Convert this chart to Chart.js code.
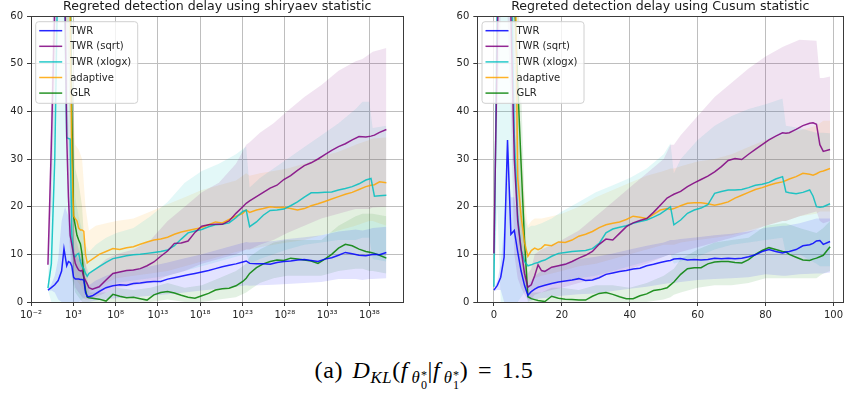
<!DOCTYPE html>
<html>
<head>
<meta charset="utf-8">
<script src="https://cdn.jsdelivr.net/npm/chart.js@4.4.1/dist/chart.umd.min.js"></script>
<style>
  html, body { margin: 0; padding: 0; background: #fff; overflow: hidden; }
  body { width: 846px; height: 399px; position: relative; }
  canvas { position: absolute; top: 0; }
  #left { left: 0; }
  #right { left: 423px; }
  #cap { position: absolute; left: 0; width: 848px; top: 357px; text-align: center;
         font: 24px 'Liberation Serif', serif; line-height: 26px; color: #000; white-space: nowrap;
         letter-spacing: 0.6px; }
  #cap sub { font-size: 0.7em; vertical-align: -0.28em; line-height: 0; }
  #cap .st { display: inline-block; vertical-align: -0.5em; line-height: 0.8em; font-size: 0.72em; margin-left: 0.05em; }
  #cap .st span { display: block; }
  #cap .f { margin-right: 0.14em; }
  #cap .eq { margin: 0 0.4em; }
  #cap .sp { margin-right: 0.4em; }
</style>
</head>
<body>
<canvas id="left" width="423" height="330"></canvas>
<canvas id="right" width="423" height="330"></canvas>
<div id="cap"><span class="sp">(a)</span><i>D</i><sub><i>KL</i></sub>(<i class="f">f</i><sub><i>θ</i><span class="st"><span>*</span><span>0</span></span></sub>|<i class="f">f</i><sub><i>θ</i><span class="st"><span>*</span><span>1</span></span></sub>)<span class="eq">=</span>1.5</div>
<script>
const seriesNames = ['TWR', 'TWR (sqrt)', 'TWR (xlogx)', 'adaptive', 'GLR'];
const seriesColors = ['#0000ff', '#800080', '#00bfbf', '#ffa500', '#008000'];
const yTicks = [0, 10, 20, 30, 40, 50, 60];
const leftTickExps = [-2, 3, 8, 13, 18, 23, 28, 33, 38];
const rightTicks = [0, 20, 40, 60, 80, 100];

// ---- left plot (shiryaev), x = step index, plotted on a log axis
const leftX = [0, 1, 2, 3, 4, 4.7, 5.5, 6, 6.5, 7, 7.5, 8, 8.5, 9, 9.5, 10, 10.5, 11, 11.5, 12, 13, 15, 17, 19, 21, 23, 25, 27, 29, 31, 33, 35, 37, 39, 41, 43, 45, 47, 49, 51, 53, 55, 57, 58, 59, 61, 63, 65, 67, 69, 71, 73, 75, 77, 79, 81, 83, 85, 87, 89, 91, 93, 94.5, 95.5, 97, 99];
const leftTwr = [2.5, 3.0, 3.6, 4.5, 6.5, 11.2, 7.6, 8.5, 8.3, 7.5, 5.2, 4.8, 4.8, 4.8, 4.7, 4.7, 4.6, 2.0, 1.2, 1.1, 1.3, 2.2, 3.0, 3.4, 3.6, 3.5, 3.9, 4.0, 4.2, 4.3, 4.3, 4.8, 5.1, 5.4, 5.7, 6.0, 6.3, 6.6, 7.0, 7.4, 7.7, 8.0, 8.4, 8.6, 8.1, 8.0, 8.0, 7.9, 8.3, 8.5, 8.6, 8.8, 8.9, 8.7, 8.5, 9.0, 9.3, 9.8, 10.4, 10.1, 9.8, 9.7, 9.9, 10.0, 9.9, 10.4];
const leftSqrt = [7.8, 33, 62, 80, 80, 80, 34.5, 22, 14, 12, 10, 8.1, 7.3, 6.7, 6.5, 6.6, 5.2, 4.5, 3.8, 3.0, 2.7, 3.2, 4.6, 6.0, 6.3, 6.6, 6.7, 7.0, 7.6, 8.4, 9.6, 10.7, 12.3, 12.4, 12.8, 14.6, 15.9, 16.2, 16.3, 16.3, 17.0, 18.6, 20.0, 20.7, 21.2, 22.1, 23.0, 23.9, 24.5, 25.7, 26.5, 27.6, 28.6, 29.2, 30.0, 30.9, 31.8, 32.6, 33.2, 34.0, 34.7, 34.6, 34.8, 35.0, 35.6, 36.2];
const leftXlogx = [2.9, 8, 30, 75, 80, 75, 34.5, 34.3, 34.2, 14, 9.7, 9.5, 10.0, 10.2, 8.5, 7.4, 7.0, 6.0, 5.4, 6.0, 6.5, 7.4, 8.3, 9.1, 9.4, 9.7, 9.9, 10.0, 10.2, 10.4, 10.6, 10.9, 11.8, 13.2, 14.5, 14.9, 15.2, 15.8, 16.2, 16.3, 16.6, 17.7, 19.0, 19.3, 15.8, 16.8, 18.2, 19.2, 19.3, 19.5, 20.2, 21.0, 22.0, 22.9, 22.9, 23.0, 23.1, 23.5, 23.8, 24.2, 24.8, 25.6, 25.9, 22.2, 22.3, 22.4];
const leftAdaptive = [80, 80, 80, 80, 80, 80, 80, 75, 60, 30, 18, 17.5, 17, 15.5, 15.1, 15.1, 14.8, 10, 8.2, 8.5, 9.0, 10.0, 10.6, 11.2, 11.0, 11.4, 11.6, 12.1, 12.6, 13.0, 13.2, 13.6, 14.2, 14.7, 15.0, 15.3, 15.6, 16.2, 16.8, 16.6, 17.3, 18.0, 18.6, 19.3, 18.8, 19.3, 19.6, 20.0, 19.8, 19.9, 19.6, 19.3, 19.6, 20.2, 20.6, 21.1, 21.6, 22.1, 22.6, 23.0, 23.6, 24.2, 24.5, 24.6, 25.2, 25.0];
const leftGlr = [80, 80, 80, 80, 80, 80, 80, 80, 70, 40, 18, 16, 14, 13, 12.2, 10, 5, 2.5, 1.0, 0.9, 0.8, 0.6, 0.2, 1.6, 1.2, 0.9, 1.0, 0.7, 0.4, 1.5, 2.0, 2.2, 1.9, 1.4, 1.0, 0.8, 1.3, 1.8, 2.5, 2.8, 2.9, 3.4, 4.3, 5.0, 6.0, 7.2, 8.0, 8.5, 8.8, 8.7, 9.2, 9.0, 8.8, 8.6, 8.1, 9.0, 10.0, 11.3, 12.1, 11.8, 11.1, 10.6, 10.4, 10.2, 9.8, 9.2];

const leftBandX = [0, 1, 2, 3, 4, 5, 6, 7, 8, 9, 10, 11, 12, 14, 17, 20, 25, 30, 35, 40, 45, 50, 55, 58, 59, 62, 66, 70, 75, 80, 85, 90, 92, 94, 95, 99];
const leftTwrLo = [2.3, 2.4, 2.0, 0.5, 0, 0, 0, 0, 0, 0, 0, 0, 0, 0.3, 0.6, 0.8, 1.0, 1.3, 1.6, 2.0, 2.4, 2.8, 3.2, 3.5, 3.4, 3.5, 3.6, 3.8, 4.0, 4.2, 4.8, 4.8, 4.6, 4.8, 4.8, 5.0];
const leftTwrHi = [2.7, 3.8, 5.5, 9, 17, 20, 18, 15, 10, 9, 9, 5, 3.5, 4.5, 5.5, 6.3, 6.8, 7.5, 8.3, 9.2, 10.0, 11.0, 12.0, 12.6, 12.5, 12.6, 12.8, 13.2, 13.6, 14.0, 14.8, 15.2, 15.0, 15.3, 15.5, 15.8];
const leftSqrtLo = [7.5, 20, 45, 60, 60, 60, 15, 6, 3, 2, 1, 0.5, 0.5, 1, 2, 3, 3.5, 4, 5.5, 6.5, 8, 9, 10, 11, 11, 12, 13, 14.5, 16, 17.5, 18.5, 19.5, 19.5, 19.5, 19.8, 20];
const leftSqrtHi = [8.2, 45, 80, 90, 90, 90, 40, 20, 14, 11, 10, 8, 6, 7, 9, 10, 11, 13, 17, 20, 23, 25, 29, 33, 33.5, 35.5, 37.5, 40, 43, 45.5, 48.5, 50.5, 51, 52, 52.5, 53.3];
const leftXlogxLo = [2.5, 0, 0, 0, 0, 0, 0, 0, 0, 0, 0.5, 1, 1.5, 2, 3, 4, 4.5, 5, 5.5, 6.5, 7.5, 8.5, 9.5, 10, 8, 9, 10, 11, 12, 12.5, 13, 13, 13.5, 13.5, 9, 8.5];
const leftXlogxHi = [3.5, 40, 90, 90, 90, 90, 80, 40, 22, 18, 15, 12, 10.5, 12, 13.5, 14.5, 15.5, 18, 21, 25, 27.5, 29, 31, 32.6, 24, 26, 28, 30, 32.5, 35, 37.5, 40.5, 42, 42, 36.5, 37];
const leftAdaptiveLo = [65, 65, 65, 65, 65, 65, 50, 10, 5, 4, 3, 2, 2, 3, 4, 5, 5.5, 6, 6.5, 7.5, 8.5, 9.5, 10.5, 11, 11, 11.5, 12, 12.5, 13, 14, 15, 16, 16.5, 17, 17, 16];
const leftAdaptiveHi = [90, 90, 90, 90, 90, 90, 90, 45, 33, 32, 30, 20, 15, 16, 16.5, 17, 17.5, 19, 20.5, 22, 23.5, 24.5, 25.5, 27, 26.5, 27, 27.5, 28, 29, 30.5, 31.5, 33, 33.5, 34, 34.3, 34.5];
const leftGlrLo = [65, 65, 65, 65, 65, 65, 50, 5, 2, 1, 0, 0, 0, 0, 0, 0, 0, 0, 0.5, 0, 0, 0.5, 1, 2, 2.5, 4, 5, 5.5, 5.5, 5.5, 6.5, 7, 7, 6.5, 6.5, 6];
const leftGlrHi = [90, 90, 90, 90, 90, 90, 90, 45, 28, 25, 20, 8, 2, 2, 2, 3, 2.5, 3, 4, 3, 3.5, 5, 6.5, 8, 9.5, 11, 12.5, 13, 13, 13, 16, 18, 18.5, 18.5, 18.5, 18];

// ---- right plot (Cusum), x = step index 0..99
const rightX = [0, 1, 2, 3, 4, 5, 6, 7, 8, 9, 10, 11, 12, 13, 14, 15, 17, 19, 21, 23, 25, 27, 29, 31, 33, 35, 37, 39, 41, 43, 45, 47, 49, 51, 52, 53, 55, 57, 59, 61, 63, 65, 67, 69, 71, 73, 75, 77, 79, 81, 83, 85, 86, 87, 89, 91, 93, 94, 95, 96, 97, 99];
const rightTwr = [2.5, 3.5, 5.2, 9.4, 34, 14.2, 15.0, 10.5, 6.5, 3.5, 1.4, 2.2, 2.7, 3.1, 3.3, 3.5, 3.9, 4.2, 4.4, 4.6, 4.9, 4.5, 4.6, 5.1, 5.8, 6.1, 6.4, 6.6, 6.9, 7.1, 7.6, 7.9, 8.3, 8.6, 8.7, 9.0, 9.1, 8.8, 8.9, 8.8, 8.9, 9.2, 9.1, 9.2, 9.1, 9.2, 9.5, 9.9, 10.6, 11.0, 10.6, 10.3, 10.5, 10.6, 11.0, 11.8, 12.0, 12.3, 12.8, 12.9, 12.1, 12.7];
const rightSqrt = [10.2, 55, 90, 90, 90, 60, 30, 17, 11, 6, 3.1, 3.6, 5.5, 7.8, 6.6, 6.4, 7.3, 7.6, 7.9, 8.5, 9.2, 9.8, 10.6, 12.1, 13.2, 13.0, 14.4, 15.8, 16.6, 17.1, 17.5, 18.8, 20.3, 21.8, 22.2, 22.6, 23.2, 24.2, 25.0, 25.7, 26.4, 27.3, 28.4, 29.7, 30.1, 29.9, 31.0, 32.0, 33.0, 34.0, 34.8, 35.5, 35.4, 35.5, 36.2, 37.0, 37.5, 37.6, 37.3, 33.0, 31.6, 32.0];
const rightXlogx = [3.2, 65, 90, 90, 90, 75, 35, 18, 11, 8.5, 7.6, 7.8, 8.1, 8.3, 8.6, 8.8, 9.6, 10.2, 10.4, 10.6, 10.7, 10.8, 11.2, 12.3, 14.5, 15.3, 15.7, 16.0, 16.5, 16.9, 17.2, 17.8, 18.5, 19.5, 20.0, 16.2, 17.2, 18.6, 19.3, 19.7, 20.4, 22.8, 23.2, 23.5, 23.5, 23.6, 24.0, 24.5, 24.7, 25.1, 25.8, 26.3, 23.1, 22.9, 22.7, 23.0, 23.5, 22.2, 20.0, 19.9, 20.0, 20.6];
const rightAdaptive = [80, 80, 80, 80, 80, 80, 90, 26, 18, 12.5, 9.6, 10.8, 11.3, 11.0, 11.3, 12.0, 11.8, 12.6, 12.5, 13.0, 13.8, 14.2, 14.8, 15.6, 16.2, 16.5, 16.8, 17.3, 18.0, 17.8, 17.5, 18.4, 19.3, 19.6, 19.4, 19.6, 20.2, 20.7, 20.8, 20.8, 20.6, 20.3, 20.6, 21.0, 21.8, 22.4, 23.0, 23.6, 24.0, 24.5, 24.9, 25.2, 25.5, 25.8, 26.3, 27.0, 26.8, 26.6, 26.9, 27.3, 27.5, 28.0];
const rightGlr = [80, 80, 80, 80, 80, 80, 65, 46, 29, 13, 1.1, 0.7, 0.5, 0.3, 0.2, 0.1, 1.2, 0.8, 0.6, 0.5, 0.4, 0.4, 1.2, 1.8, 2.0, 1.6, 1.1, 0.7, 0.7, 1.3, 1.7, 2.4, 2.6, 3.0, 3.6, 4.2, 5.8, 7.0, 7.2, 7.2, 8.0, 8.4, 8.5, 8.5, 8.3, 8.2, 8.9, 10.0, 10.8, 11.4, 11.0, 10.6, 10.5, 10.0, 9.4, 8.8, 8.7, 9.0, 9.2, 9.5, 9.8, 11.6];

const rightBandX = [0, 1, 2, 3, 4, 5, 6, 7, 8, 9, 10, 11, 12, 14, 17, 20, 25, 30, 35, 40, 45, 50, 52, 53, 55, 60, 65, 70, 75, 80, 85, 86, 90, 95, 96, 97, 99];
const rightTwrLo = [2.3, 2.5, 2.5, 0, 0, 0, 0, 0, 0, 0, 0, 0.3, 0.6, 0.8, 1.0, 1.3, 1.6, 1.8, 2.3, 2.8, 3.2, 3.8, 4, 4, 4.2, 4.6, 4.8, 5.0, 5.2, 5.8, 5.5, 5.5, 5.8, 6.0, 6.0, 6.0, 6.2];
const rightTwrHi = [2.7, 4.5, 8, 16, 30, 22, 22, 17, 12, 7, 3.5, 4.5, 5.5, 6.5, 7.2, 8, 9, 9.5, 10.2, 11, 11.8, 12.5, 13, 13, 13.2, 13.6, 14, 14.3, 14.8, 15.6, 16, 16, 16.5, 17.5, 17.5, 17.5, 17.5];
const rightSqrtLo = [9.8, 40, 60, 60, 60, 40, 10, 5, 3, 1.5, 0.5, 0.5, 1.5, 2, 2.5, 3, 4, 5, 6, 7, 8, 9.5, 10, 10, 10.5, 11.5, 12.5, 13.5, 14.5, 16, 17, 17, 18, 19, 17, 16.5, 17];
const rightSqrtHi = [10.6, 90, 90, 90, 90, 90, 60, 30, 20, 12, 6, 7, 10, 11, 12, 13, 15, 18, 21, 24, 27, 30, 33, 33, 35, 39, 43, 46, 49, 51.5, 53.5, 53.8, 55, 54.8, 47, 47, 47.3];
const rightXlogxLo = [3, 20, 0, 0, 0, 0, 0, 0, 1, 2, 2.5, 2.5, 3, 3.5, 4, 4.5, 5, 5.5, 6.5, 7.5, 8.5, 9.5, 10, 8, 8.5, 9.5, 11, 12, 12.5, 13, 13.5, 10, 10, 8, 7.5, 7.5, 7.5];
const rightXlogxHi = [3.4, 90, 90, 90, 90, 90, 80, 45, 25, 18, 15.5, 16, 16, 16.5, 17.5, 19, 21, 23, 24.5, 26, 28, 31, 33.3, 27, 30, 34, 37, 39, 40.5, 41.5, 42.7, 37, 36.5, 35.5, 35.5, 35.5, 35.4];
const rightAdaptiveLo = [65, 65, 65, 65, 65, 65, 65, 10, 6, 4, 3.5, 4.5, 5, 5.5, 6, 6.5, 7.5, 8, 9, 10, 11, 12, 12, 12, 12.5, 13, 13.5, 14, 15, 16, 17, 17, 18, 18.5, 19, 19, 19];
const rightAdaptiveHi = [90, 90, 90, 90, 90, 90, 90, 45, 32, 22, 16, 17, 17.5, 17.5, 18, 18.5, 20, 22, 23.5, 25, 26.5, 27.5, 28, 28, 28.5, 29.5, 30, 31, 32.5, 34, 35, 35.5, 36, 37, 37.5, 38, 38];
const rightGlrLo = [65, 65, 65, 65, 65, 65, 50, 25, 12, 4, 0, 0, 0, 0, 0, 0, 0, 0, 0, 0, 0, 0.5, 1, 1.5, 2, 3, 3.5, 3.5, 4, 5, 5, 5, 5, 5, 5.5, 6, 6.5];
const rightGlrHi = [90, 90, 90, 90, 90, 90, 90, 70, 45, 22, 3, 2, 2, 2, 3, 3, 2.5, 3.5, 3.5, 3, 4, 5.5, 6.5, 7, 9, 11, 12.5, 13, 13.5, 16, 16.5, 16.5, 15.5, 14.5, 15, 15.5, 17];

const FONT = 'DejaVu Sans';
const SUP = { '-': '\u207b', '0': '\u2070', '1': '\u00b9', '2': '\u00b2', '3': '\u00b3', '4': '\u2074',
              '5': '\u2075', '6': '\u2076', '7': '\u2077', '8': '\u2078', '9': '\u2079' };
const sup = n => String(n).split('').map(c => SUP[c]).join('');

function withAlpha(hex, a) {
  const n = parseInt(hex.slice(1), 16);
  return `rgba(${n >> 16}, ${(n >> 8) & 255}, ${n & 255}, ${a})`;
}

// title, frame and the in-axes legend
const decor = {
  id: 'decor',
  afterDraw(chart, args, o) {
    const { ctx, chartArea: a } = chart;
    ctx.save();
    ctx.strokeStyle = '#3a3a3a';
    ctx.lineWidth = 1;
    const l = Math.floor(a.left) + 0.5, r = Math.floor(a.right) + 0.5;
    const t = Math.floor(a.top) + 0.5, b = Math.floor(a.bottom) + 0.5;
    ctx.strokeRect(l, t, r - l, b - t);

    ctx.fillStyle = '#1a1a1a';
    ctx.font = `12.6px '${FONT}'`;
    ctx.textAlign = 'center';
    ctx.textBaseline = 'alphabetic';
    ctx.fillText(o.title, (a.left + a.right) / 2, 9.5);

    const lx = a.left + 4.7, ly = a.top + 5.7, lw = 102, lh = 81.6, rad = 3;
    ctx.beginPath();
    ctx.moveTo(lx + rad, ly);
    ctx.arcTo(lx + lw, ly, lx + lw, ly + lh, rad);
    ctx.arcTo(lx + lw, ly + lh, lx, ly + lh, rad);
    ctx.arcTo(lx, ly + lh, lx, ly, rad);
    ctx.arcTo(lx, ly, lx + lw, ly, rad);
    ctx.closePath();
    ctx.fillStyle = 'rgba(255,255,255,0.8)';
    ctx.fill();
    ctx.strokeStyle = '#d0d0d0';
    ctx.stroke();

    ctx.font = `10px '${FONT}'`;
    ctx.textAlign = 'left';
    ctx.textBaseline = 'middle';
    seriesNames.forEach((name, k) => {
      const y = ly + 9 + k * 15.6;
      ctx.strokeStyle = withAlpha(seriesColors[k], 0.85);
      ctx.lineWidth = 1.5;
      ctx.beginPath();
      ctx.moveTo(lx + 3.5, y);
      ctx.lineTo(lx + 26.5, y);
      ctx.stroke();
      ctx.fillStyle = '#262626';
      ctx.fillText(name, lx + 34.5, y + 0.5);
    });
    ctx.restore();
  }
};

function makeChart(id, p) {
  const datasets = [];
  p.lines.forEach((ys, k) => {
    datasets.push({
      data: p.xs.map((x, j) => ({ x: p.toX(x), y: ys[j] })),
      borderColor: withAlpha(seriesColors[k], 0.85), borderWidth: 1.5,
      pointRadius: 0, fill: false, tension: 0, order: 0
    });
  });
  p.bands.forEach(([lo, hi], k) => {
    const lowIndex = datasets.length;
    datasets.push({
      data: p.bandXs.map((x, j) => ({ x: p.toX(x), y: lo[j] })),
      borderWidth: 0, borderColor: 'rgba(0,0,0,0)', pointRadius: 0, fill: false, order: 1, clip: 0
    });
    datasets.push({
      data: p.bandXs.map((x, j) => ({ x: p.toX(x), y: hi[j] })),
      borderWidth: 0, borderColor: 'rgba(0,0,0,0)', pointRadius: 0, fill: lowIndex,
      backgroundColor: withAlpha(seriesColors[k], 0.11), order: 1, clip: 0
    });
  });

  const tickFont = { family: FONT, size: 10 };
  new Chart(document.getElementById(id), {
    type: 'line',
    data: { datasets },
    options: {
      responsive: false,
      animation: false,
      events: [],
      layout: { padding: { left: 0, right: p.padRight, top: 16, bottom: 0 } },
      plugins: { legend: { display: false }, tooltip: { enabled: false }, decor: { title: p.title } },
      scales: {
        x: Object.assign({
          grid: { color: '#bebebe', tickColor: '#3a3a3a', tickLength: 4 },
          border: { color: '#3a3a3a' },
          ticks: { font: tickFont, color: '#262626', padding: 3, autoSkip: false, maxRotation: 0, callback: p.xLabel },
          afterBuildTicks: s => { s.ticks = p.xTicks.map(v => ({ value: v })); },
          afterFit: s => { s.height = 28; }
        }, p.xScale),
        y: {
          type: 'linear', min: 0, max: 60,
          grid: { color: '#bebebe', tickColor: '#3a3a3a', tickLength: 4 },
          border: { color: '#3a3a3a' },
          ticks: { font: tickFont, color: '#262626', padding: 4 },
          afterBuildTicks: s => { s.ticks = yTicks.map(v => ({ value: v })); },
          afterFit: s => { s.width = p.yWidth; }
        }
      }
    },
    plugins: [decor]
  });
}

makeChart('left', {
  title: 'Regreted detection delay using shiryaev statistic',
  xs: leftX, bandXs: leftBandX,
  toX: i => Math.pow(10, i * 40 / 99),
  lines: [leftTwr, leftSqrt, leftXlogx, leftAdaptive, leftGlr],
  bands: [[leftTwrLo, leftTwrHi], [leftSqrtLo, leftSqrtHi], [leftXlogxLo, leftXlogxHi],
          [leftAdaptiveLo, leftAdaptiveHi], [leftGlrLo, leftGlrHi]],
  xScale: { type: 'logarithmic', min: 1e-2, max: 1e42 },
  xTicks: leftTickExps.map(e => Math.pow(10, e)),
  xLabel: v => '10' + sup(Math.round(Math.log10(v))),
  yWidth: 31, padRight: 19.7
});

makeChart('right', {
  title: 'Regreted detection delay using Cusum statistic',
  xs: rightX, bandXs: rightBandX,
  toX: i => i,
  lines: [rightTwr, rightSqrt, rightXlogx, rightAdaptive, rightGlr],
  bands: [[rightTwrLo, rightTwrHi], [rightSqrtLo, rightSqrtHi], [rightXlogxLo, rightXlogxHi],
          [rightAdaptiveLo, rightAdaptiveHi], [rightGlrLo, rightGlrHi]],
  xScale: { type: 'linear', min: -4.9, max: 102.9 },
  xTicks: rightTicks,
  xLabel: v => String(v),
  yWidth: 54.3, padRight: 0.3
});
</script>
</body>
</html>
